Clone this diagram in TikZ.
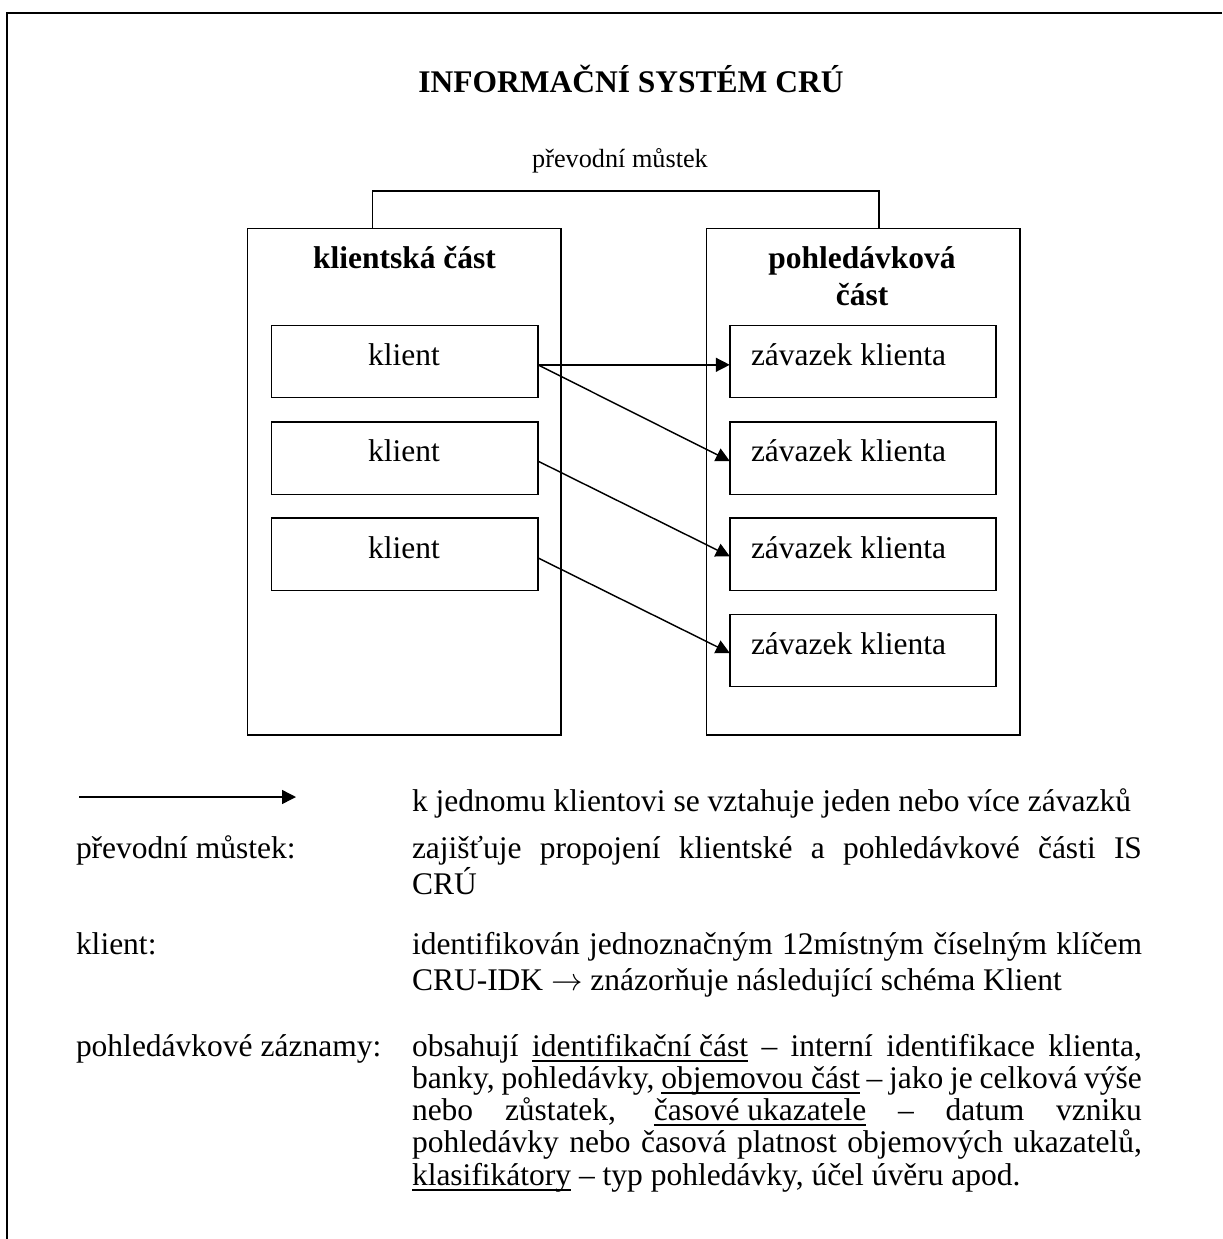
\documentclass[tikz,border=0pt]{standalone}
\usepackage{fontspec}
\setmainfont{Liberation Serif}
\usetikzlibrary{arrows.meta}
\newcommand\ulx[1]{\setbox0\hbox{#1}\rlap{\rule[-2.2pt]{\wd0}{0.5pt}}\box0\relax}
\newcommand\jline[1]{\makebox[278.1pt][s]{#1}}
\begin{document}
\begin{tikzpicture}[x=0.381pt,y=-0.381pt,line width=0.55pt,
  txt/.style={inner sep=0pt,outer sep=0pt,anchor=base west,font=\fontsize{12}{14}\selectfont},
  ctxt/.style={inner sep=0pt,outer sep=0pt,anchor=base,font=\fontsize{12}{14}\selectfont},
  btxt/.style={ctxt,font=\fontsize{12}{14}\selectfont\bfseries},
  bigbox/.style={draw,inner sep=0pt,outer sep=0pt,minimum width=119.44pt,minimum height=193pt},
  itembox/.style={draw,inner sep=0pt,outer sep=0pt,minimum width=101.5pt,minimum height=27.55pt},
  arr/.style={-{Triangle[length=5.3pt,width=5.3pt]}},
  frame/.style={line width=0.7pt}]
\useasboundingbox (0,0) rectangle (1222,1239);
% frame
\coordinate (f0) at (6.7,12.7);
\coordinate (f1) at (1222,12.7);
\coordinate (f2) at (6.7,1239);
\draw[frame] (f1) -- (f0) -- (f2);
% title
\node[btxt] (title) at (631,93) {INFORMAČNÍ SYSTÉM CRÚ};
\node[ctxt,font=\fontsize{10}{12}\selectfont] (bridgelbl) at (620,167) {převodní můstek};
% big boxes
\node[bigbox] (L) at (404.25,481.7) {};
\node[bigbox] (R) at (863.25,481.7) {};
\node[btxt] (Lt) at (404.5,268) {klientská část};
\node[btxt] (Rt1) at (862,268) {pohledávková};
\node[btxt] (Rt2) at (862,305) {část};
% bridge
\coordinate (bA) at (372.5,191);
\coordinate (bB) at (879,191);
\draw (bA |- L.north) -- (bA) -- (bB) -- (bB |- R.north);
% client boxes
\node[itembox] (k1) at (404.75,361.4) {};
\node[itembox] (k2) at (404.75,458.2) {};
\node[itembox] (k3) at (404.75,554.2) {};
\node[ctxt] (kt1) at (404,365) {klient};
\node[ctxt] (kt2) at (404,461.5) {klient};
\node[ctxt] (kt3) at (404,558) {klient};
% obligation boxes
\node[itembox] (z1) at (863,361.4) {};
\node[itembox] (z2) at (863,458.2) {};
\node[itembox] (z3) at (863,554.2) {};
\node[itembox] (z4) at (863,650.4) {};
\node[txt] (zt1) at (751,365) {závazek klienta};
\node[txt] (zt2) at (751,461.5) {závazek klienta};
\node[txt] (zt3) at (751,558) {závazek klienta};
\node[txt] (zt4) at (751,654.5) {závazek klienta};
% arrows
\draw[arr] ([yshift=-1.3pt]k1.east) -- ([yshift=-1.3pt]z1.west);
\draw[arr] ([yshift=-1.3pt]k1.east) -- ([yshift=-1.1pt]z2.west);
\draw[arr] ([yshift=-1.1pt]k2.east) -- ([yshift=-0.8pt]z3.west);
\draw[arr] ([yshift=-1.4pt]k3.east) -- ([yshift=-1.0pt]z4.west);
% legend
\coordinate (la) at (79,797);
\coordinate (lb) at (296,797);
\draw[arr] (la) -- (lb);
\node[txt] (d1) at (412,811) {k jednomu klientovi se vztahuje jeden nebo více závazků};
\node[txt] (l2) at (76,858) {převodní můstek:};
\node[txt] (d2a) at (412,858) {\jline{zajišťuje propojení klientské a pohledávkové části IS}};
\node[txt] (d2b) at (412,894) {CRÚ};
\node[txt] (l3) at (76,954) {klient:};
\node[txt] (d3a) at (412,954) {\jline{identifikován jednoznačným 12místným číselným klíčem}};
\node[txt] (d3b) at (412,990) {CRU-IDK $\rightarrow$ znázorňuje následující schéma Klient};
\node[txt] (l4) at (76,1056) {pohledávkové záznamy:};
\node[txt] (p1) at (412,1056) {\jline{obsahují \ulx{identifikační část} – interní identifikace klienta,}};
\node[txt] (p2) at (412,1088) {\jline{banky, pohledávky, \ulx{objemovou část} – jako je celková výše}};
\node[txt] (p3) at (412,1120) {\jline{nebo zůstatek, \ulx{časové ukazatele} – datum vzniku}};
\node[txt] (p4) at (412,1152) {\jline{pohledávky nebo časová platnost objemových ukazatelů,}};
\node[txt] (p5) at (412,1185) {\ulx{klasifikátory} – typ pohledávky, účel úvěru apod.};
\end{tikzpicture}
\end{document}
